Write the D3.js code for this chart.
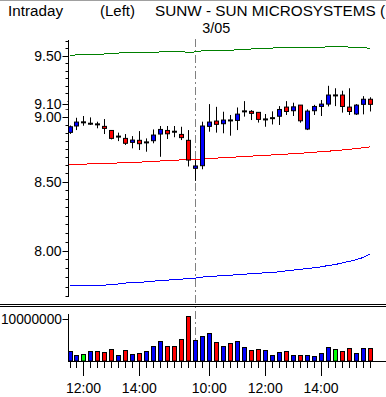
<!DOCTYPE html>
<html>
<head>
<meta charset="utf-8">
<script src="https://cdn.jsdelivr.net/npm/d3@7/dist/d3.min.js"></script>
<style>
body { margin: 0; background: #fff; }
svg text { font-family: "Liberation Sans", "DejaVu Sans", sans-serif; font-size: 14px; fill: #000; }
</style>
</head>
<body>
<div id="chart"></div>
<script>
var times = ["11:30","11:45","12:00","12:15","12:30","12:45","13:00","13:15","13:30","13:45",
  "14:00","14:15","14:30","14:45","15:00","15:15","15:30","15:45",
  "09:30","09:45","10:00","10:15","10:30","10:45","11:00","11:15","11:30","11:45",
  "12:00","12:15","12:30","12:45","13:00","13:15","13:30","13:45","14:00","14:15",
  "14:30","14:45","15:00","15:15","15:30","15:45"];
var labelTimes = ["12:00","14:00","10:00"];
var dayStart = 18;
var dayLabel = "3/05";

var open = [8.878,8.928,8.957,8.946,8.941,8.925,8.893,8.845,8.831,8.800,8.816,8.800,8.813,8.865,8.893,8.883,8.862,8.816,
  8.601,8.621,8.925,8.967,8.946,8.972,8.972,9.044,9.044,9.036,8.980,8.990,9.005,9.078,9.049,9.094,8.904,9.049,9.083,9.102,9.172,9.175,9.078,9.023,9.100,9.141];
var high = [8.932,8.993,9.007,8.996,8.962,8.983,8.896,8.876,8.865,8.849,8.888,8.831,8.901,8.928,8.928,8.928,8.922,8.896,
  8.664,8.962,9.102,9.080,9.041,9.015,9.075,9.126,9.054,9.036,9.023,9.044,9.086,9.126,9.113,9.094,9.060,9.096,9.135,9.250,9.230,9.210,9.230,9.102,9.166,9.157];
var low = [8.866,8.896,8.930,8.936,8.910,8.865,8.823,8.810,8.780,8.754,8.741,8.728,8.793,8.689,8.826,8.840,8.818,8.615,
  8.506,8.594,8.883,8.876,8.871,8.852,8.896,9.002,8.975,8.955,8.922,8.940,8.936,9.015,9.007,8.954,8.896,9.015,9.007,9.083,9.086,9.034,9.015,9.015,9.020,9.043];
var close = [8.922,8.959,8.957,8.946,8.941,8.909,8.831,8.845,8.793,8.818,8.790,8.800,8.857,8.901,8.867,8.883,8.837,8.664,
  8.619,8.928,8.959,8.941,8.975,8.972,9.022,9.044,9.028,8.980,8.980,8.990,9.059,9.043,9.080,8.969,9.046,9.083,9.102,9.175,9.172,9.083,9.043,9.094,9.141,9.100];

var volume = [2400000,1400000,1600000,2400000,2400000,2100000,2900000,1400000,2600000,1700000,1900000,2400000,3600000,4800000,3600000,3600000,5200000,10700000,
  5000000,6000000,6700000,4500000,3600000,4300000,4800000,3300000,2600000,2900000,2600000,1400000,2100000,2400000,1400000,1400000,1400000,1200000,1900000,3300000,2900000,2400000,3100000,1900000,3100000,3100000];
// u = up, d = down, n = unchanged
var volDir = ["u","u","n","u","d","d","d","u","d","u","d","u","u","u","d","d","d","d",
  "u","u","u","d","u","d","u","u","d","d","u","u","u","d","u","d","u","u","u","u","n","d","d","u","u","d"];

var upperLine = [9.502,9.505,9.506,9.509,9.510,9.513,9.517,9.521,9.525,9.527,9.527,9.527,9.528,9.530,9.530,9.532,9.532,9.527,
  9.530,9.540,9.541,9.541,9.542,9.544,9.548,9.552,9.555,9.555,9.559,9.563,9.565,9.566,9.566,9.566,9.566,9.566,9.567,9.576,9.580,9.580,9.571,9.569,9.567,9.561];
var midLine = [8.631,8.632,8.633,8.635,8.637,8.638,8.640,8.642,8.644,8.646,8.648,8.651,8.654,8.657,8.660,8.663,8.665,8.668,
  8.670,8.673,8.676,8.679,8.682,8.685,8.688,8.691,8.694,8.697,8.700,8.703,8.706,8.709,8.713,8.716,8.720,8.724,8.728,8.732,8.736,8.741,8.746,8.752,8.758,8.765];
var lowerLine = [7.760,7.760,7.760,7.760,7.760,7.760,7.763,7.768,7.774,7.777,7.779,7.782,7.787,7.791,7.794,7.797,7.801,7.804,
  7.808,7.815,7.819,7.822,7.825,7.828,7.831,7.835,7.838,7.841,7.845,7.848,7.851,7.858,7.863,7.868,7.874,7.879,7.886,7.895,7.902,7.912,7.924,7.935,7.951,7.974];

var priceTicks = [8.00, 8.50, 9.00, 9.50];

var width = 386, height = 397;
var svg = d3.select("#chart").append("svg")
    .attr("width", width)
    .attr("height", height);

var idx = d3.range(times.length);
var x = d3.scalePoint().domain(idx).range([69.5, 370]);
var y = d3.scaleLog().domain([7.679, 9.631]).range([297, 40]);
var yv = d3.scaleLinear().domain([0, 11190000]).range([361, 314]);

// frame line on top
svg.append("line").attr("x1", 0).attr("x2", width).attr("y1", 0.5).attr("y2", 0.5)
    .attr("stroke", "#a0a0a0");

// header
var header = [
  {t: "Intraday", x: 8, w: 55},
  {t: "(Left)", x: 100, w: 35},
  {t: "SUNW - SUN MICROSYSTEMS (", x: 155, w: 230}
];
svg.selectAll("text.hdr").data(header).enter().append("text")
    .attr("class", "hdr")
    .attr("x", function(d) { return d.x; })
    .attr("y", 16)
    .attr("textLength", function(d) { return d.w; })
    .attr("lengthAdjust", "spacingAndGlyphs")
    .text(function(d) { return d.t; });
svg.append("text").attr("x", x(dayStart) + 21).attr("y", 33)
    .attr("text-anchor", "middle")
    .attr("textLength", 28)
    .attr("lengthAdjust", "spacingAndGlyphs")
    .text(dayLabel);

// day separator
svg.append("line")
    .attr("x1", Math.round(x(dayStart)) + 0.5).attr("x2", Math.round(x(dayStart)) + 0.5)
    .attr("y1", 39).attr("y2", 361)
    .attr("stroke", "#808080")
    .attr("stroke-dasharray", "8,3,2,3");

// price axis
var minor = d3.range(7.6875, 9.63, 0.0625);
var yAxisG = svg.append("g").attr("transform", "translate(68.5,0)");
yAxisG.append("line").attr("y1", 40).attr("y2", 297).attr("stroke", "#000");
yAxisG.selectAll("line.minor").data(minor).enter().append("line")
    .attr("x1", -3).attr("x2", 0)
    .attr("y1", function(d) { return Math.round(y(d)) + 0.5; })
    .attr("y2", function(d) { return Math.round(y(d)) + 0.5; })
    .attr("stroke", "#000");
yAxisG.selectAll("line.major").data(priceTicks).enter().append("line")
    .attr("x1", -6).attr("x2", 0)
    .attr("y1", function(d) { return Math.round(y(d)) + 0.5; })
    .attr("y2", function(d) { return Math.round(y(d)) + 0.5; })
    .attr("stroke", "#000");
yAxisG.selectAll("text").data(priceTicks).enter().append("text")
    .attr("x", -7)
    .attr("y", function(d) { return y(d) + 5; })
    .attr("text-anchor", "end")
    .text(function(d) { return d3.format(".2f")(d); });

// last price label
var last = close[close.length - 1];
yAxisG.append("rect").attr("x", -36).attr("y", y(last) - 6).attr("width", 35).attr("height", 11)
    .attr("fill", "#fff");
yAxisG.append("line").attr("x1", -6).attr("x2", 0)
    .attr("y1", Math.round(y(last)) + 0.5).attr("y2", Math.round(y(last)) + 0.5)
    .attr("stroke", "#000");
yAxisG.append("text").attr("x", -7).attr("y", y(last) + 5)
    .attr("text-anchor", "end").text(d3.format(".2f")(last));

// lines
var lines = [
  {v: upperLine, c: "#008000"},
  {v: midLine, c: "#ff0000"},
  {v: lowerLine, c: "#0000ff"}
];
lines.forEach(function(l) {
  svg.append("path")
    .datum(l.v)
    .attr("fill", "none")
    .attr("stroke", l.c)
    .attr("stroke-width", 1)
    .attr("shape-rendering", "crispEdges")
    .attr("d", d3.line()
      .x(function(d, i) { return x(i); })
      .y(function(d) { return y(d); }));
});

// candles
var candles = svg.append("g");
idx.forEach(function(i) {
  var cx = Math.round(x(i)) + 0.5;
  candles.append("line")
    .attr("x1", cx).attr("x2", cx)
    .attr("y1", y(high[i])).attr("y2", y(low[i]))
    .attr("stroke", "#000");
  if (open[i] === close[i]) {
    candles.append("rect")
      .attr("x", cx - 2.5).attr("y", y(open[i]) - 1)
      .attr("width", 5).attr("height", 2)
      .attr("fill", "#000");
  } else {
    var top = y(Math.max(open[i], close[i]));
    var bot = y(Math.min(open[i], close[i]));
    candles.append("rect")
      .attr("x", cx - 2).attr("y", top)
      .attr("width", 4).attr("height", Math.max(bot - top, 1.5))
      .attr("fill", close[i] > open[i] ? "#0000ff" : "#ff0000")
      .attr("stroke", "#000");
  }
});

// panel separator
[304.5, 306.5].forEach(function(py) {
  svg.append("line").attr("x1", 0).attr("x2", width).attr("y1", py).attr("y2", py)
    .attr("stroke", "#000");
});

// volume axis
var vAxisG = svg.append("g").attr("transform", "translate(68.5,0)");
vAxisG.append("line").attr("y1", 314).attr("y2", 361).attr("stroke", "#000");
vAxisG.append("line").attr("x1", -6).attr("x2", 0)
    .attr("y1", Math.round(yv(10000000)) + 0.5).attr("y2", Math.round(yv(10000000)) + 0.5)
    .attr("stroke", "#000");
vAxisG.append("text").attr("x", -6.5).attr("y", yv(10000000) + 5)
    .attr("text-anchor", "end")
    .attr("textLength", 61)
    .attr("lengthAdjust", "spacingAndGlyphs")
    .text("10000000");

// volume bars
var volColor = {u: "#0000ff", d: "#ff0000", n: "#00ff00"};
svg.append("g").selectAll("rect").data(volume).enter().append("rect")
    .attr("x", function(d, i) { return Math.round(x(i)) - 1.5; })
    .attr("y", function(d) { return Math.round(yv(d)) + 0.5; })
    .attr("width", 4)
    .attr("height", function(d) { return 361 - Math.round(yv(d)) - 0.5; })
    .attr("fill", function(d, i) { return volColor[volDir[i]]; })
    .attr("stroke", "#000");

// time axis
svg.append("line").attr("x1", 68).attr("x2", width).attr("y1", 361.5).attr("y2", 361.5)
    .attr("stroke", "#000");
var isLabel = function(i) {
  return labelTimes.indexOf(times[i]) >= 0;
};
svg.append("g").selectAll("line").data(idx).enter().append("line")
    .attr("x1", function(i) { return Math.round(x(i)) + 0.5; })
    .attr("x2", function(i) { return Math.round(x(i)) + 0.5; })
    .attr("y1", 362)
    .attr("y2", function(i) { return isLabel(i) ? 376 : 368; })
    .attr("stroke", "#000");
svg.append("g").selectAll("text").data(idx.filter(isLabel)).enter().append("text")
    .attr("x", function(i) { return x(i); })
    .attr("y", 393)
    .attr("text-anchor", "middle")
    .text(function(i) { return times[i]; });
</script>
</body>
</html>
